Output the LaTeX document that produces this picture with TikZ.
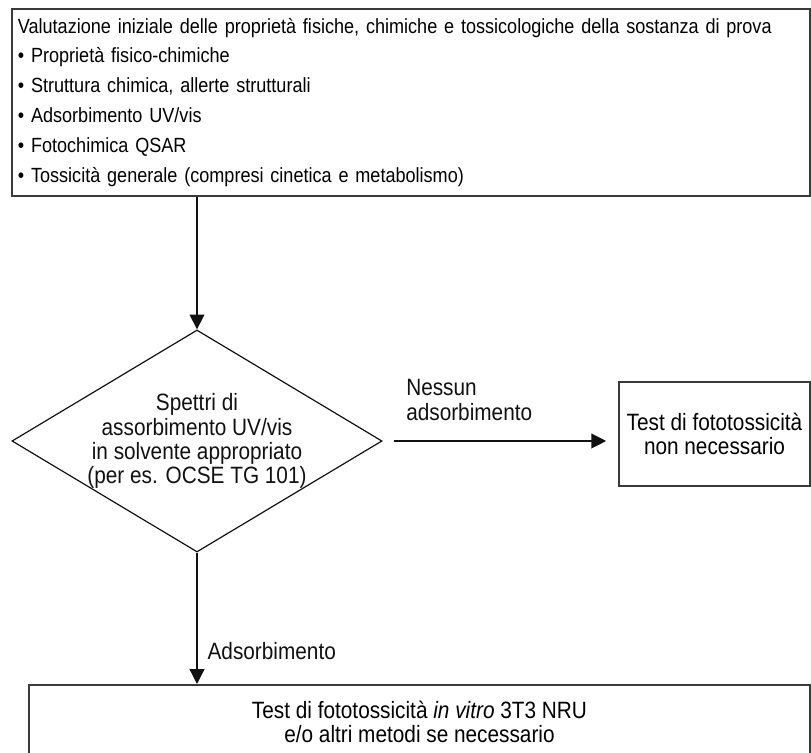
\documentclass[tikz,border=0pt]{standalone}
\usepackage{fontspec}
\setmainfont{Liberation Sans}[FakeStretch=0.88]
\usetikzlibrary{arrows.meta,shapes.geometric,positioning}
\definecolor{FlowInk}{HTML}{111111}
\definecolor{FlowRule}{HTML}{3A3A3A}

\begin{document}
\begin{tikzpicture}[
    x=0.025cm, y=-0.025cm,
    font=\fontsize{16.8}{17.2}\selectfont,
    box/.style={
        draw=FlowRule,
        line width=0.9pt,
        fill=white,
        align=center,
        inner sep=0pt
    },
    decision/.style={diamond, draw=FlowInk, line width=0.85pt,
                     minimum width=9.25cm, minimum height=5.55cm,
                     inner sep=0pt},
    flow/.style={-{Triangle[length=10.5pt,width=10.5pt]},
                 draw=FlowInk, line width=0.85pt},
    flow label/.style={inner sep=0pt, align=left, text=FlowInk}
]
    \useasboundingbox (0,0) rectangle (811,753);
    \clip (0,0) rectangle (811,753);

    \node[box, minimum width=19.95cm, minimum height=4.675cm,
          text width=19.65cm, align=left,
          font=\fontsize{14.6}{21.3}\selectfont] (eval) at (411,102.5)
        {Valutazione iniziale delle proprietà fisiche, chimiche e tossicologiche della sostanza di prova\\
         • Proprietà fisico-chimiche\\
         • Struttura chimica, allerte strutturali\\
         • Adsorbimento UV/vis\\
         • Fotochimica QSAR\\
         • Tossicità generale (compresi cinetica e metabolismo)};

    \node[decision] (spettri) at (197,441) {};
    \node[flow label, align=center] (spettritxt) at (spettri)
        {Spettri di\\assorbimento UV/vis\\in solvente appropriato\\(per es. OCSE TG 101)};

    \node[box, line width=1.1pt, minimum width=4.775cm, minimum height=2.6cm]
        (nonnec) at (714.5,434) {Test di fototossicità\\non necessario};

    \node[box, line width=1.4pt, minimum width=19.525cm, minimum height=1.85cm]
        (invitro) at (419.5,722)
        {Test di fototossicità \textit{in vitro} 3T3 NRU\\e/o altri metodi se necessario};

    \draw[flow] (eval.south -| spettri.north) -- (spettri.north);
    \draw[flow, shorten <=0.275cm, shorten >=0.3cm]
        (spettri.east) -- node[flow label, pos=0, anchor=south west,
        xshift=0.575cm, yshift=0.5cm] (nessun) {Nessun\\adsorbimento}
        (spettri.east -| nonnec.west);
    \draw[flow] (spettri.south) -- node[flow label, pos=0.75, anchor=west,
        xshift=0.25cm] (adsorb) {Adsorbimento}
        (spettri.south |- invitro.north);
\end{tikzpicture}
\end{document}
